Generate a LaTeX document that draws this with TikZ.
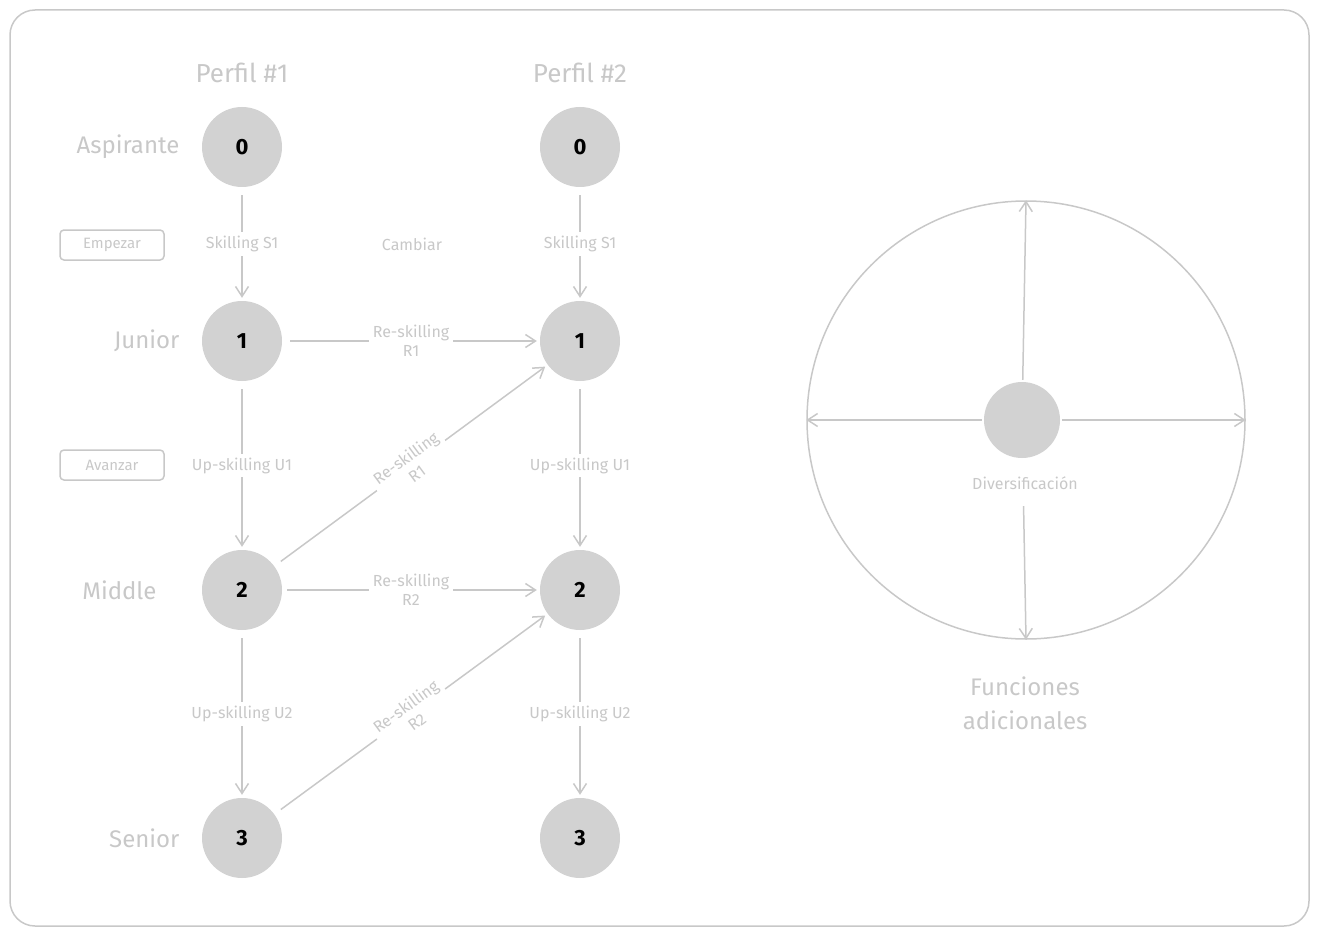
\documentclass[tikz,border=0pt]{standalone}
\usepackage{fontspec}
\usetikzlibrary{arrows.meta}
\setmainfont{Fira Sans}
\definecolor{lt}{HTML}{C8C8C8}
\definecolor{nd}{HTML}{D2D2D2}
\begin{document}
\begin{tikzpicture}[x=1pt,y=-1pt,
  st/.style={circle,fill=nd,minimum size=80pt,inner sep=0pt,font=\fontsize{22}{24}\selectfont\bfseries,text=black},
  ln/.style={draw=lt,line width=1.5pt,->,>={Straight Barb[length=10pt,width=13pt]},shorten <=8pt,shorten >=3pt},
  lab/.style={fill=white,text=lt,font=\fontsize{16}{19}\selectfont,align=center,inner sep=4pt},
  row/.style={text=lt,font=\fontsize{24}{26}\selectfont,anchor=east},
  ttl/.style={text=lt,font=\fontsize{26}{28}\selectfont},
  tag/.style={draw=lt,line width=1.5pt,rounded corners=4pt,text=lt,font=\fontsize{15}{17}\selectfont,minimum width=104pt,minimum height=30pt}]
\useasboundingbox (0,0) rectangle (1319,936);
\draw[lt,line width=1.5pt,rounded corners=25pt] (10,10) rectangle (1309,926);
\node[ttl] (t1) at (242,73) {Perfil \#1};
\node[ttl] (t2) at (580,73) {Perfil \#2};
\node[row] (r0) at (183,147) {Aspirante};
\node[row] (r1) at (183,341) {Junior};
\node[row] (r2) at (160,590) {Middle};
\node[row] (r3) at (183,838) {Senior};
\node[tag] (emp) at (112,245) {Empezar};
\node[tag] (ava) at (112,465) {Avanzar};
\node[text=lt,font=\fontsize{16}{19}\selectfont] (cam) at (412,244) {Cambiar};
\foreach \n/\x/\y/\t in {a0/242/147/0,a1/242/341/1,a2/242/590/2,a3/242/838/3,b0/580/147/0,b1/580/341/1,b2/580/590/2,b3/580/838/3}
  \node[st] (\n) at (\x,\y) {\t};
\draw[ln] (a0) -- node[lab]{Skilling S1} (a1);
\draw[ln] (b0) -- node[lab]{Skilling S1} (b1);
\draw[ln] (a1) -- node[lab]{Up-skilling U1} (a2);
\draw[ln] (b1) -- node[lab]{Up-skilling U1} (b2);
\draw[ln] (a2) -- node[lab]{Up-skilling U2} (a3);
\draw[ln] (b2) -- node[lab]{Up-skilling U2} (b3);
\draw[ln] (a1) -- node[lab]{Re-skilling\\R1} (b1);
\draw[ln,shorten <=5pt] (a2) -- node[lab]{Re-skilling\\R2} (b2);
\draw[ln] (a2) -- node[lab,sloped]{Re-skilling\\R1} (b1);
\draw[ln] (a3) -- node[lab,sloped]{Re-skilling\\R2} (b2);
\node[circle,draw=lt,line width=1.5pt,minimum size=438pt] (big) at (1026,420) {};
\node[circle,fill=nd,minimum size=76pt] (c) at (1022,420) {};
\node[text=lt,font=\fontsize{16}{19}\selectfont] (div) at (1025,483) {Diversificación};
\draw[ln,shorten <=2pt,shorten >=0pt] (c) -- (big.north);
\draw[ln,shorten <=2pt,shorten >=0pt] (c) -- (big.east);
\draw[ln,shorten <=2pt,shorten >=0pt] (c) -- (big.west);
\draw[ln,shorten <=48pt,shorten >=0pt] (c) -- (big.south);
\node[text=lt,font=\fontsize{24}{34}\selectfont,align=center] (fa) at (1025,703) {Funciones\\adicionales};
\end{tikzpicture}
\end{document}
